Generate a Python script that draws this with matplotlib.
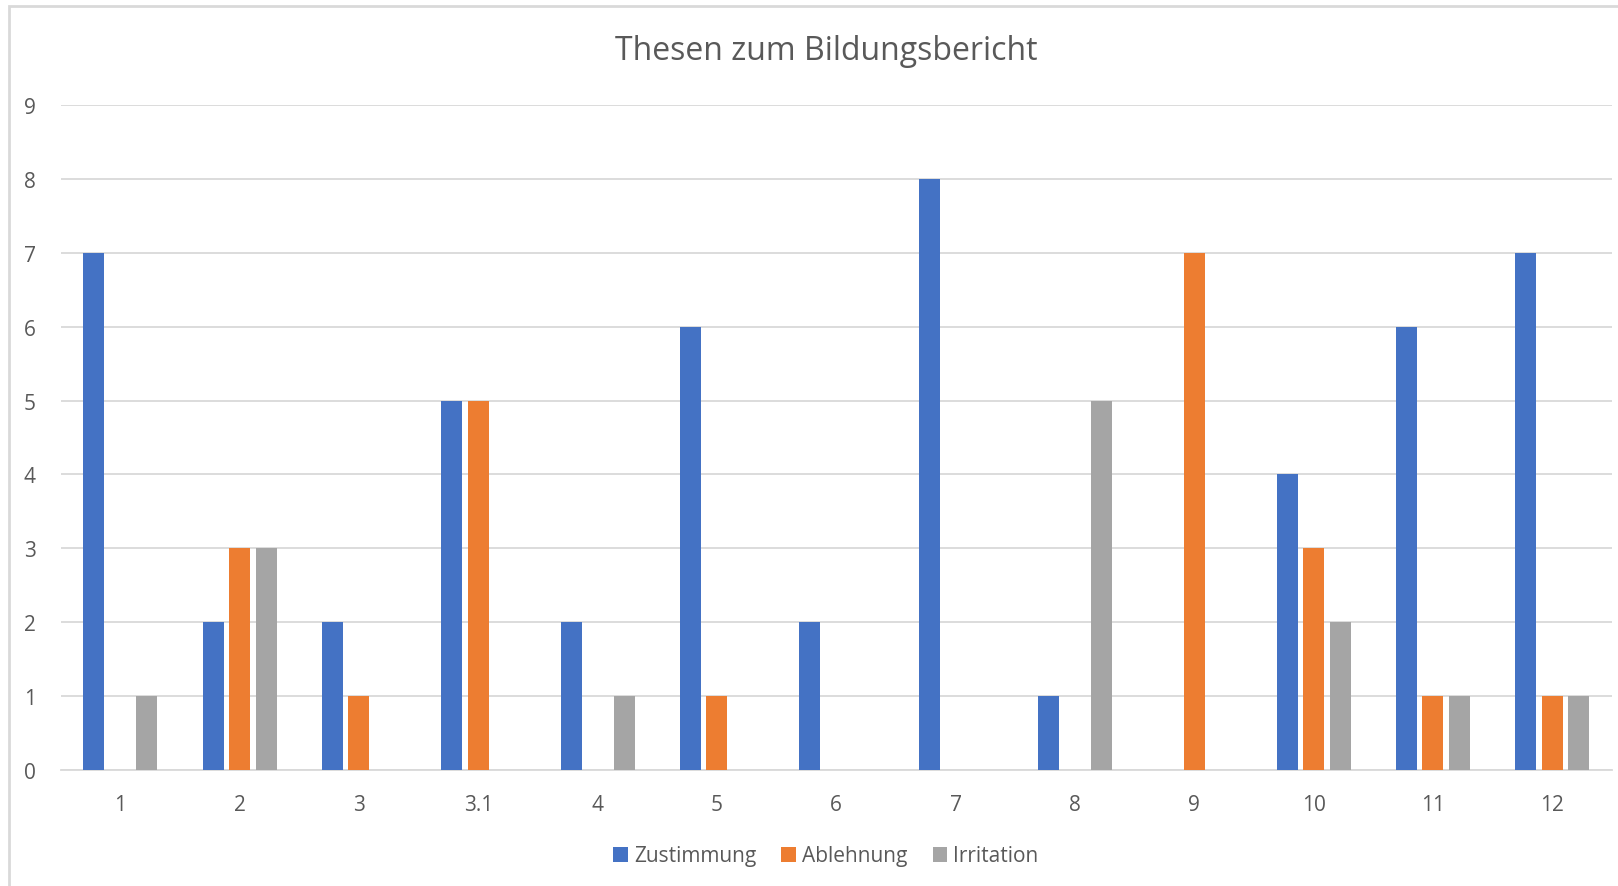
import matplotlib.pyplot as plt
import numpy as np
from matplotlib.patches import Rectangle

plt.rcParams['font.family'] = ['Open Sans', 'DejaVu Sans']

categories = ['1', '2', '3', '3.1', '4', '5', '6', '7', '8', '9', '10', '11', '12']
zustimmung = [7, 2, 2, 5, 2, 6, 2, 8, 1, 0, 4, 6, 7]
ablehnung = [0, 3, 1, 5, 0, 1, 0, 0, 0, 7, 3, 1, 1]
irritation = [1, 3, 0, 0, 1, 0, 0, 0, 5, 0, 2, 1, 1]

series = [('Zustimmung', zustimmung, '#4472C4'),
          ('Ablehnung', ablehnung, '#ED7D31'),
          ('Irritation', irritation, '#A5A5A5')]

W, H = 1618, 887
fig = plt.figure(figsize=(W / 100, H / 100), dpi=100)
ax = fig.add_axes([60.5 / W, (H - 771) / H, (1612 - 60.5) / W, (771 - 106) / H])

x = np.arange(len(categories))
width = 0.176
step = 0.222
for i, (name, vals, col) in enumerate(series):
    ax.bar(x + (i - 1) * step, vals, width, color=col, label=name, zorder=3)

ax.set_xlim(-0.5, len(categories) - 0.5)
ax.set_ylim(0, 9)
ax.set_yticks(range(10))
ax.yaxis.grid(True, color='#D9D9D9', lw=1.3, zorder=0)
ax.set_xticks(x)
ax.set_xticklabels(categories)
ax.tick_params(axis='both', length=0, labelsize=15, colors='#595959')
ax.tick_params(axis='x', pad=17)
ax.tick_params(axis='y', pad=22)
for lbl in ax.get_yticklabels():
    lbl.set_horizontalalignment('center')
for s in ['top', 'right', 'left']:
    ax.spines[s].set_visible(False)
ax.spines['bottom'].set_color('#D9D9D9')
ax.spines['bottom'].set_linewidth(1.3)

fig.text(826 / W, 1 - 52 / H, 'Thesen zum Bildungsbericht', ha='center', va='center',
         fontsize=23, color='#595959')

fig.legend(loc='center', bbox_to_anchor=(826 / W, 1 - 857 / H), ncol=3, frameon=False,
           fontsize=15, labelcolor='#595959', handlelength=0.7, handleheight=0.7,
           handletextpad=0.3, columnspacing=1.2)

# chart-area border, only top and left edges fall inside the image
fig.patches.append(Rectangle((9 / W, -0.2), 1.2, 1.2 - 7 / H, transform=fig.transFigure,
                             fill=False, edgecolor='#D9D9D9', lw=2))

fig.savefig('out.png', dpi=100)
